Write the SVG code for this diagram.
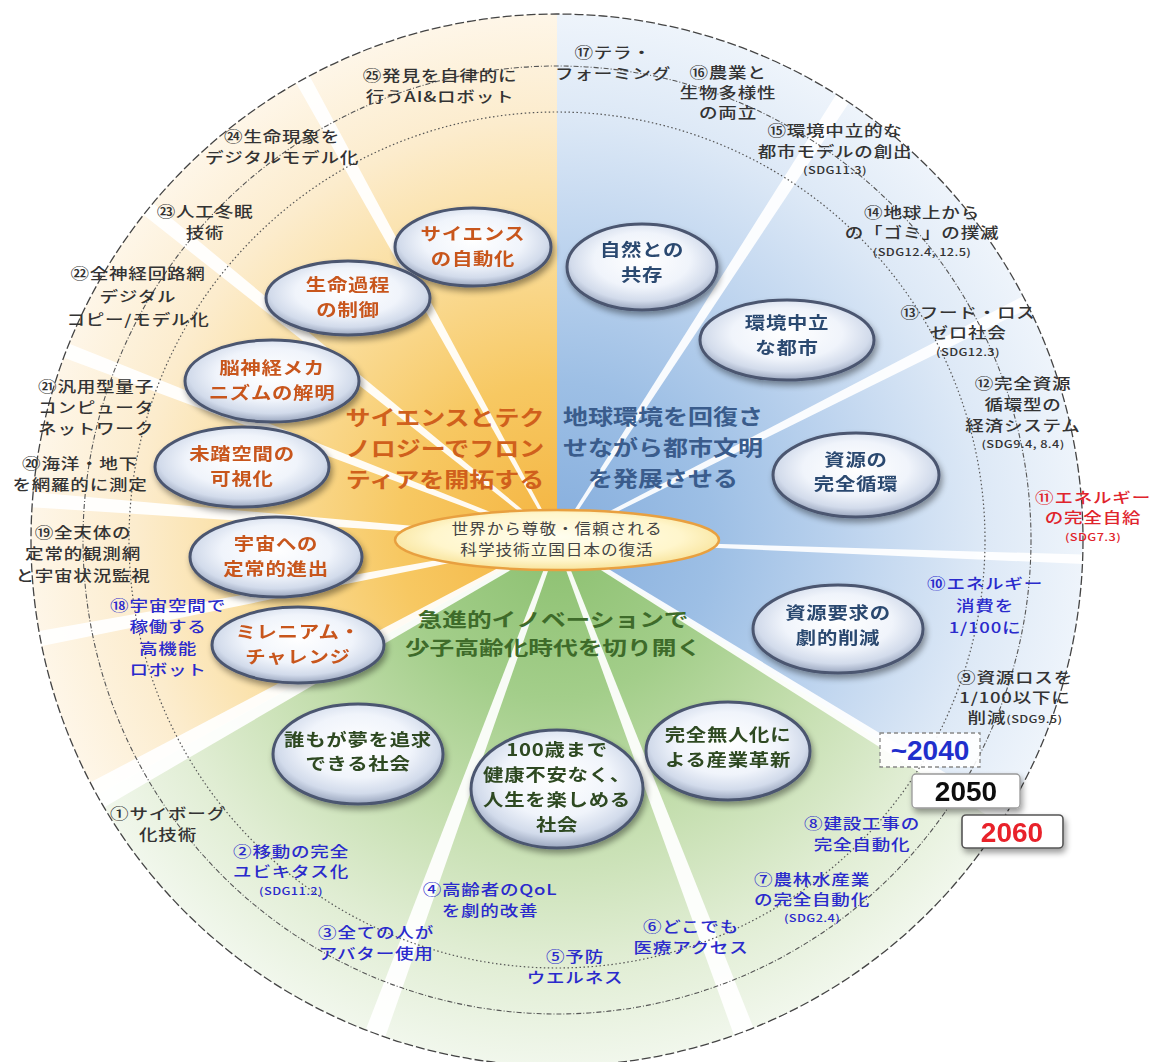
<svg xmlns="http://www.w3.org/2000/svg" width="1152" height="1062" viewBox="0 0 1152 1062">
<style>
text{font-family:"Noto Sans CJK JP","Noto Sans",sans-serif;text-anchor:middle}
.lb{font-size:14.5px;letter-spacing:0.6px;fill:#333;font-weight:500}
.blu{fill:#2A2ACC}
.red{fill:#E0242C}
.sdg{font-size:10px;letter-spacing:0.3px}
.nt{font-size:17px;font-weight:bold;letter-spacing:0.6px}
.ny{fill:#C8561E}
.nb{fill:#2B4870}
.ng{fill:#2F4A22}
.tt{font-size:21px;font-weight:bold}
.node ellipse{fill:url(#nodeG);stroke:#4B5670;stroke-width:3}
.spk{fill:#FFFFFF;opacity:0.92}
.yr{font-family:"Liberation Sans",Arial,sans-serif;font-weight:bold;font-size:28px}
</style>
<defs>
<radialGradient id="gY" gradientUnits="userSpaceOnUse" cx="557" cy="540" r="526">
<stop offset="0" stop-color="#F4B440"/><stop offset="0.3" stop-color="#F7C862"/><stop offset="0.55" stop-color="#FADC98"/><stop offset="0.8" stop-color="#FCECCD"/><stop offset="1" stop-color="#FEF6E8"/>
</radialGradient>
<radialGradient id="gB" gradientUnits="userSpaceOnUse" cx="557" cy="540" r="526">
<stop offset="0" stop-color="#86AEDD"/><stop offset="0.3" stop-color="#9DBFE5"/><stop offset="0.55" stop-color="#BCD3EE"/><stop offset="0.8" stop-color="#DCE8F6"/><stop offset="1" stop-color="#EEF4FB"/>
</radialGradient>
<radialGradient id="gG" gradientUnits="userSpaceOnUse" cx="557" cy="540" r="526">
<stop offset="0" stop-color="#8CC070"/><stop offset="0.3" stop-color="#A3CE8A"/><stop offset="0.55" stop-color="#C4DEAE"/><stop offset="0.8" stop-color="#E0EDD3"/><stop offset="1" stop-color="#F1F7EC"/>
</radialGradient>
<radialGradient id="nodeG" cx="50%" cy="42%" r="58%">
<stop offset="0" stop-color="#FFFFFF"/><stop offset="0.55" stop-color="#F0F4FB"/><stop offset="0.82" stop-color="#D2DBEB"/><stop offset="1" stop-color="#9AA6BE"/>
</radialGradient>
<radialGradient id="cenG" cx="50%" cy="45%" r="55%">
<stop offset="0" stop-color="#FFFEF0"/><stop offset="0.7" stop-color="#FFF6CC"/><stop offset="1" stop-color="#F8E39A"/>
</radialGradient>
<clipPath id="disc"><circle cx="557" cy="540" r="526"/></clipPath>
<filter id="sh" x="-20%" y="-20%" width="140%" height="160%">
<feGaussianBlur in="SourceAlpha" stdDeviation="3"/>
<feOffset dx="2" dy="4" result="o"/>
<feComponentTransfer><feFuncA type="linear" slope="0.4"/></feComponentTransfer>
<feMerge><feMergeNode/><feMergeNode in="SourceGraphic"/></feMerge>
</filter>
</defs>
<rect width="1152" height="1062" fill="#FFFFFF"/>

<g id="sectors" clip-path="url(#disc)">
<polygon points="557,540 -300,1015 -300,-300 557,-300" fill="url(#gY)"/>
<polygon points="557,540 557,-300 1500,-300 1500,1125" fill="url(#gB)"/>
<polygon points="557,540 1500,1125 1500,1600 -300,1600 -300,1015" fill="url(#gG)"/>
</g>

<g id="connectors" clip-path="url(#disc)">
<g transform="translate(557,540)">
<polygon class="spk" transform="rotate(-118.9)" points="20,-1.5 560,-8 560,8 20,1.5"/>
<polygon class="spk" transform="rotate(-141)" points="20,-1.5 560,-8 560,8 20,1.5"/>
<polygon class="spk" transform="rotate(-158.9)" points="20,-1.5 560,-8 560,8 20,1.5"/>
<polygon class="spk" transform="rotate(-175.6)" points="20,-1.5 560,-8 560,8 20,1.5"/>
<polygon class="spk" transform="rotate(169.2)" points="20,-1.5 560,-8 560,8 20,1.5"/>
<polygon class="spk" transform="rotate(151)" points="20,-3 560,-15 560,15 20,3"/>
<polygon class="spk" transform="rotate(110.2)" points="20,-2 560,-11 560,11 20,2"/>
<polygon class="spk" transform="rotate(69.2)" points="20,-2 560,-11 560,11 20,2"/>
<polygon class="spk" transform="rotate(31.8)" points="20,-2 560,-8 560,8 20,2"/>
<polygon class="spk" transform="rotate(2.1)" points="20,-1 560,-5 560,5 20,1"/>
<polygon class="spk" transform="rotate(-26.9)" points="20,-1.5 560,-7 560,7 20,1.5"/>
<polygon class="spk" transform="rotate(-57.1)" points="20,-1.5 560,-8 560,8 20,1.5"/>
</g>
</g>

<g id="rings" fill="none">
<circle cx="557" cy="540" r="526" stroke="#444" stroke-width="1.3" stroke-dasharray="9 3"/>
<circle cx="557" cy="540" r="474" stroke="#555" stroke-width="1.1" stroke-dasharray="5 2 1 2"/>
<circle cx="557" cy="540" r="428" stroke="#555" stroke-width="1.2" stroke-dasharray="1.5 2.5"/>
</g>

<g id="titles">
<text class="tt" fill="#D0601C" transform="translate(445,0) scale(1.19,1)"><tspan x="0" y="425">サイエンスとテク</tspan><tspan x="0" y="456">ノロジーでフロン</tspan><tspan x="0" y="487">ティアを開拓する</tspan></text>
<text class="tt" fill="#3A5C8C" transform="translate(663,0) scale(1.19,1)"><tspan x="0" y="424">地球環境を回復さ</tspan><tspan x="0" y="455">せながら都市文明</tspan><tspan x="0" y="486">を発展させる</tspan></text>
<text class="tt" fill="#3E6B2A" transform="translate(553,0) scale(1.3,1)" style="font-size:19px"><tspan x="0" y="627">急進的イノベーションで</tspan><tspan x="0" y="655">少子高齢化時代を切り開く</tspan></text>
</g>

<g id="center" class="node">
<ellipse cx="557" cy="540" rx="162" ry="30" style="fill:url(#cenG);stroke:#E8A040;stroke-width:2.5"/>
<text style="font-size:14.5px;letter-spacing:0.8px;fill:#444" transform="translate(557,0) scale(1.15,1)"><tspan x="0" y="534">世界から尊敬・信頼される</tspan><tspan x="0" y="555">科学技術立国日本の復活</tspan></text>
</g>

<g id="n-science-auto" class="node" filter="url(#sh)"><ellipse cx="473" cy="247" rx="78" ry="39"/><text class="nt ny" transform="translate(473,0) scale(1.2,1)"><tspan x="0" y="240">サイエンス</tspan><tspan x="0" y="265">の自動化</tspan></text></g>
<g id="n-life" class="node" filter="url(#sh)"><ellipse cx="348" cy="298" rx="82" ry="37"/><text class="nt ny" transform="translate(348,0) scale(1.2,1)"><tspan x="0" y="291">生命過程</tspan><tspan x="0" y="316">の制御</tspan></text></g>
<g id="n-brain" class="node" filter="url(#sh)"><ellipse cx="272" cy="381" rx="87" ry="41"/><text class="nt ny" transform="translate(272,0) scale(1.2,1)"><tspan x="0" y="374">脳神経メカ</tspan><tspan x="0" y="399">ニズムの解明</tspan></text></g>
<g id="n-unexplored" class="node" filter="url(#sh)"><ellipse cx="242" cy="467" rx="87" ry="40"/><text class="nt ny" transform="translate(242,0) scale(1.2,1)"><tspan x="0" y="460">未踏空間の</tspan><tspan x="0" y="485">可視化</tspan></text></g>
<g id="n-space" class="node" filter="url(#sh)"><ellipse cx="276" cy="557" rx="86" ry="40"/><text class="nt ny" transform="translate(276,0) scale(1.2,1)"><tspan x="0" y="550">宇宙への</tspan><tspan x="0" y="575">定常的進出</tspan></text></g>
<g id="n-millennium" class="node" filter="url(#sh)"><ellipse cx="298" cy="645" rx="86" ry="38"/><text class="nt ny" transform="translate(298,0) scale(1.2,1)"><tspan x="0" y="638">ミレニアム・</tspan><tspan x="0" y="663">チャレンジ</tspan></text></g>

<g id="n-nature" class="node" filter="url(#sh)"><ellipse cx="642" cy="267" rx="75" ry="43"/><text class="nt nb" transform="translate(642,0) scale(1.2,1)"><tspan x="0" y="256">自然との</tspan><tspan x="0" y="281">共存</tspan></text></g>
<g id="n-city" class="node" filter="url(#sh)"><ellipse cx="787" cy="340" rx="87" ry="40"/><text class="nt nb" transform="translate(787,0) scale(1.2,1)"><tspan x="0" y="329">環境中立</tspan><tspan x="0" y="354">な都市</tspan></text></g>
<g id="n-resource" class="node" filter="url(#sh)"><ellipse cx="856" cy="475" rx="83" ry="42"/><text class="nt nb" transform="translate(856,0) scale(1.2,1)"><tspan x="0" y="466">資源の</tspan><tspan x="0" y="490">完全循環</tspan></text></g>
<g id="n-demand" class="node" filter="url(#sh)"><ellipse cx="838" cy="629" rx="85" ry="44"/><text class="nt nb" transform="translate(838,0) scale(1.2,1)"><tspan x="0" y="619">資源要求の</tspan><tspan x="0" y="644">劇的削減</tspan></text></g>

<g id="n-dream" class="node" filter="url(#sh)"><ellipse cx="358" cy="754" rx="85" ry="50"/><text class="nt ng" transform="translate(358,0) scale(1.2,1)"><tspan x="0" y="746">誰もが夢を追求</tspan><tspan x="0" y="770">できる社会</tspan></text></g>
<g id="n-100" class="node" filter="url(#sh)"><ellipse cx="557" cy="789" rx="86" ry="59"/><text class="nt ng" transform="translate(557,0) scale(1.2,1)"><tspan x="0" y="756">100歳まで</tspan><tspan x="0" y="781">健康不安なく、</tspan><tspan x="0" y="806">人生を楽しめる</tspan><tspan x="0" y="831">社会</tspan></text></g>
<g id="n-unmanned" class="node" filter="url(#sh)"><ellipse cx="728" cy="751" rx="82" ry="49"/><text class="nt ng" transform="translate(728,0) scale(1.2,1)"><tspan x="0" y="741">完全無人化に</tspan><tspan x="0" y="766">よる産業革新</tspan></text></g>

<g id="labels">
<text class="lb" transform="translate(440,0) scale(1.28,1)"><tspan x="0" y="81">㉕発見を自律的に</tspan><tspan x="0" y="102">行うAI&amp;ロボット</tspan></text>
<text class="lb" transform="translate(282,0) scale(1.28,1)"><tspan x="0" y="142">㉔生命現象を</tspan><tspan x="0" y="163">デジタルモデル化</tspan></text>
<text class="lb" transform="translate(205,0) scale(1.28,1)"><tspan x="0" y="217">㉓人工冬眠</tspan><tspan x="0" y="238">技術</tspan></text>
<text class="lb" transform="translate(138,0) scale(1.28,1)"><tspan x="0" y="279">㉒全神経回路網</tspan><tspan x="0" y="302">デジタル</tspan><tspan x="0" y="325">コピー/モデル化</tspan></text>
<text class="lb" transform="translate(96,0) scale(1.28,1)"><tspan x="0" y="392">㉑汎用型量子</tspan><tspan x="0" y="413">コンピュータ</tspan><tspan x="0" y="434">ネットワーク</tspan></text>
<text class="lb" transform="translate(80,0) scale(1.28,1)"><tspan x="0" y="469">⑳海洋・地下</tspan><tspan x="0" y="490">を網羅的に測定</tspan></text>
<text class="lb" transform="translate(83,0) scale(1.28,1)"><tspan x="0" y="538">⑲全天体の</tspan><tspan x="0" y="559">定常的観測網</tspan><tspan x="0" y="581">と宇宙状況監視</tspan></text>
<text class="lb blu" transform="translate(168,0) scale(1.28,1)"><tspan x="0" y="611">⑱宇宙空間で</tspan><tspan x="0" y="632">稼働する</tspan><tspan x="0" y="654">高機能</tspan><tspan x="0" y="675">ロボット</tspan></text>

<text class="lb" transform="translate(613,0) scale(1.28,1)"><tspan x="0" y="58">⑰テラ・</tspan><tspan x="0" y="79">フォーミング</tspan></text>
<text class="lb" transform="translate(728,0) scale(1.28,1)"><tspan x="0" y="78">⑯農業と</tspan><tspan x="0" y="98">生物多様性</tspan><tspan x="0" y="118">の両立</tspan></text>
<text class="lb" transform="translate(835,0) scale(1.28,1)"><tspan x="0" y="136">⑮環境中立的な</tspan><tspan x="0" y="157">都市モデルの創出</tspan><tspan class="sdg" x="0" y="174">(SDG11.3)</tspan></text>
<text class="lb" transform="translate(922,0) scale(1.28,1)"><tspan x="0" y="218">⑭地球上から</tspan><tspan x="0" y="238">の「ゴミ」の撲滅</tspan><tspan class="sdg" x="0" y="256">(SDG12.4, 12.5)</tspan></text>
<text class="lb" transform="translate(968,0) scale(1.28,1)"><tspan x="0" y="318">⑬フード・ロス</tspan><tspan x="0" y="338">ゼロ社会</tspan><tspan class="sdg" x="0" y="356">(SDG12.3)</tspan></text>
<text class="lb" transform="translate(1023,0) scale(1.28,1)"><tspan x="0" y="389">⑫完全資源</tspan><tspan x="0" y="410">循環型の</tspan><tspan x="0" y="431">経済システム</tspan><tspan class="sdg" x="0" y="448">(SDG9.4, 8.4)</tspan></text>
<text class="lb red" transform="translate(1093,0) scale(1.28,1)"><tspan x="0" y="503">⑪エネルギー</tspan><tspan x="0" y="523">の完全自給</tspan><tspan class="sdg" x="0" y="541">(SDG7.3)</tspan></text>
<text class="lb blu" transform="translate(985,0) scale(1.28,1)"><tspan x="0" y="589">⑩エネルギー</tspan><tspan x="0" y="611">消費を</tspan><tspan x="0" y="633">1/100に</tspan></text>
<text class="lb" transform="translate(1015,0) scale(1.28,1)"><tspan x="0" y="683">⑨資源ロスを</tspan><tspan x="0" y="703">1/100以下に</tspan><tspan x="0" y="723">削減<tspan class="sdg">(SDG9.5)</tspan></tspan></text>

<text class="lb" transform="translate(168,0) scale(1.28,1)"><tspan x="0" y="819">①サイボーグ</tspan><tspan x="0" y="840">化技術</tspan></text>
<text class="lb blu" transform="translate(291,0) scale(1.28,1)"><tspan x="0" y="857">②移動の完全</tspan><tspan x="0" y="877">ユビキタス化</tspan><tspan class="sdg" x="0" y="895">(SDG11.2)</tspan></text>
<text class="lb blu" transform="translate(376,0) scale(1.28,1)"><tspan x="0" y="938">③全ての人が</tspan><tspan x="0" y="959">アバター使用</tspan></text>
<text class="lb blu" transform="translate(490,0) scale(1.28,1)"><tspan x="0" y="895">④高齢者のQoL</tspan><tspan x="0" y="916">を劇的改善</tspan></text>
<text class="lb blu" transform="translate(575,0) scale(1.28,1)"><tspan x="0" y="962">⑤予防</tspan><tspan x="0" y="983">ウエルネス</tspan></text>
<text class="lb blu" transform="translate(691,0) scale(1.28,1)"><tspan x="0" y="932">⑥どこでも</tspan><tspan x="0" y="953">医療アクセス</tspan></text>
<text class="lb blu" transform="translate(812,0) scale(1.28,1)"><tspan x="0" y="885">⑦農林水産業</tspan><tspan x="0" y="905">の完全自動化</tspan><tspan class="sdg" x="0" y="922">(SDG2.4)</tspan></text>
<text class="lb blu" transform="translate(862,0) scale(1.28,1)"><tspan x="0" y="829">⑧建設工事の</tspan><tspan x="0" y="850">完全自動化</tspan></text>
</g>

<g id="year-2040"><rect x="880" y="733" width="100" height="34" fill="#FFFFFF" fill-opacity="0.9" stroke="#888" stroke-width="1.3" stroke-dasharray="4 3"/><text class="yr" x="930" y="760" fill="#1F2FCC">~2040</text></g>
<g id="year-2050" filter="url(#sh)"><rect x="912" y="774" width="108" height="34" rx="4" fill="#FFFFFF" stroke="#999" stroke-width="1.3"/><text class="yr" x="966" y="801" fill="#111">2050</text></g>
<g id="year-2060" filter="url(#sh)"><rect x="962" y="815" width="101" height="33" rx="4" fill="#FFFFFF" stroke="#555" stroke-width="1.6"/><text class="yr" x="1012" y="842" fill="#E8202A">2060</text></g>
</svg>
